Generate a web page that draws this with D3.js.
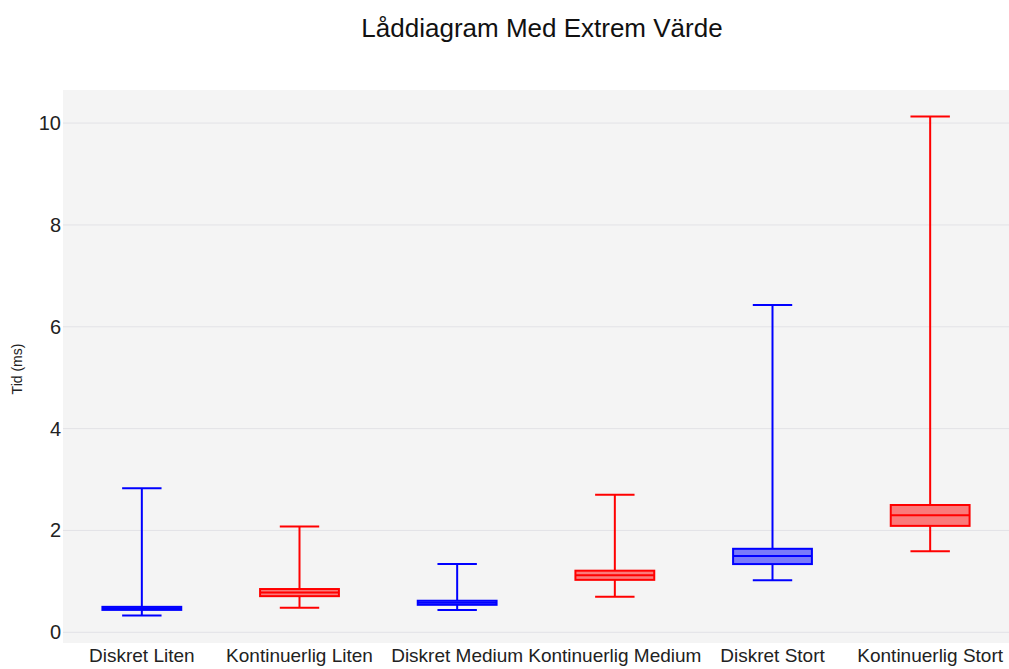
<!DOCTYPE html>
<html>
<head>
<meta charset="utf-8">
<script src="https://cdn.jsdelivr.net/npm/d3@7"></script>
<style>
  body { margin: 0; background: #fff; }
  text { font-family: "Liberation Sans", Arial, sans-serif; }
</style>
</head>
<body>
<svg id="chart"></svg>
<script>
// data
var categories = ["Diskret Liten", "Kontinuerlig Liten", "Diskret Medium", "Kontinuerlig Medium", "Diskret Stort", "Kontinuerlig Stort"];
var minVals    = [0.33, 0.48, 0.44, 0.70, 1.02, 1.59];
var q1Vals     = [0.44, 0.71, 0.54, 1.03, 1.34, 2.09];
var medianVals = [0.47, 0.78, 0.58, 1.12, 1.50, 2.30];
var q3Vals     = [0.50, 0.85, 0.62, 1.21, 1.64, 2.50];
var maxVals    = [2.83, 2.08, 1.34, 2.70, 6.43, 10.13];
var seriesColors = ["blue", "red", "blue", "red", "blue", "red"];
var yTicks = [0, 2, 4, 6, 8, 10];

var data = categories.map(function(c, i) {
  return {cat: c, min: minVals[i], q1: q1Vals[i], med: medianVals[i], q3: q3Vals[i], max: maxVals[i], color: seriesColors[i]};
});

var W = 1009, H = 669;
var margin = {top: 90, right: 0, bottom: 26, left: 63},
    width = W - margin.left - margin.right,
    height = H - margin.top - margin.bottom;

var svg = d3.select("#chart").attr("width", W).attr("height", H);

var g = svg.append("g")
  .attr("transform", "translate(" + margin.left + "," + margin.top + ")");

// plot background
g.append("rect")
  .attr("width", width)
  .attr("height", height)
  .attr("fill", "#f4f4f4");

var x = d3.scaleBand()
  .domain(categories)
  .range([0, width]);

var y = d3.scaleLinear()
  .domain([-0.21, 10.65])
  .range([height, 0]);

// gridlines
g.selectAll(".grid")
  .data(yTicks)
  .enter()
  .append("line")
    .attr("x1", 0)
    .attr("x2", width)
    .attr("y1", d => y(d))
    .attr("y2", d => y(d))
    .attr("stroke", "#e2e2e6")
    .attr("stroke-width", 1);

// y axis
var yAxis = g.append("g")
  .call(d3.axisLeft(y).tickValues(yTicks).tickSize(0).tickPadding(2));
yAxis.select(".domain").remove();
yAxis.selectAll("text")
  .style("font-size", "20px")
  .attr("fill", "#222");

// x axis
var xAxis = g.append("g")
  .attr("transform", "translate(0," + height + ")")
  .call(d3.axisBottom(x).tickSize(0).tickPadding(6));
xAxis.select(".domain").remove();
xAxis.selectAll("text")
  .style("font-size", "19px")
  .attr("fill", "#222");

// boxes
var boxW = x.bandwidth() * 0.5,
    capW = boxW * 0.5;

var box = g.selectAll(".box")
  .data(data)
  .enter()
  .append("g")
    .attr("class", "box")
    .attr("transform", d => "translate(" + (x(d.cat) + x.bandwidth() / 2) + ",0)");

// whiskers
box.append("line")
  .attr("x1", 0).attr("x2", 0)
  .attr("y1", d => y(d.q3)).attr("y2", d => y(d.max))
  .attr("stroke", d => d.color).attr("stroke-width", 2);
box.append("line")
  .attr("x1", 0).attr("x2", 0)
  .attr("y1", d => y(d.q1)).attr("y2", d => y(d.min))
  .attr("stroke", d => d.color).attr("stroke-width", 2);
// caps
box.append("line")
  .attr("x1", -capW / 2).attr("x2", capW / 2)
  .attr("y1", d => y(d.max)).attr("y2", d => y(d.max))
  .attr("stroke", d => d.color).attr("stroke-width", 2);
box.append("line")
  .attr("x1", -capW / 2).attr("x2", capW / 2)
  .attr("y1", d => y(d.min)).attr("y2", d => y(d.min))
  .attr("stroke", d => d.color).attr("stroke-width", 2);

// box body
box.append("rect")
  .attr("x", -boxW / 2)
  .attr("width", boxW)
  .attr("y", d => y(d.q3))
  .attr("height", d => y(d.q1) - y(d.q3))
  .attr("fill", d => d.color)
  .attr("fill-opacity", 0.5)
  .attr("stroke", d => d.color)
  .attr("stroke-width", 2);

// median
box.append("line")
  .attr("x1", -boxW / 2).attr("x2", boxW / 2)
  .attr("y1", d => y(d.med)).attr("y2", d => y(d.med))
  .attr("stroke", d => d.color).attr("stroke-width", 2);

// title
svg.append("text")
  .attr("x", 542)
  .attr("y", 37)
  .attr("text-anchor", "middle")
  .style("font-size", "26px")
  .attr("fill", "#111")
  .text("Låddiagram Med Extrem Värde");

// y axis label
svg.append("text")
  .attr("transform", "translate(22,369)rotate(-90)")
  .attr("text-anchor", "middle")
  .style("font-size", "14px")
  .attr("fill", "#222")
  .text("Tid (ms)");
</script>
</body>
</html>
